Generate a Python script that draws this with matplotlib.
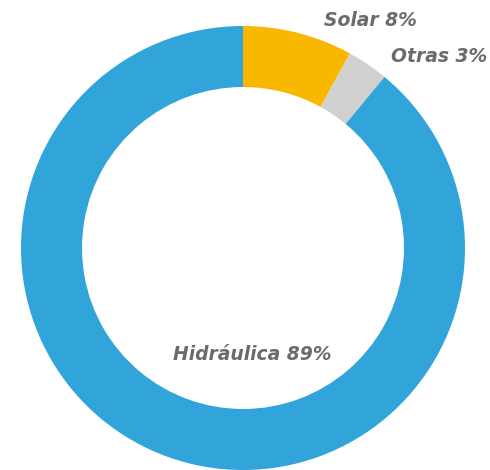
import matplotlib
matplotlib.use("Agg")
import matplotlib.pyplot as plt

labels = ["Solar", "Otras", "Hidráulica"]
shares = [8, 3, 89]
colors = ["#F9B700", "#D0D0CF", "#31A4DA"]

fig = plt.figure(figsize=(4.9, 4.7), dpi=100)
ax = fig.add_axes([0, 0, 1, 1])

# donut starting at the top, going clockwise
ax.pie(shares, colors=colors, startangle=90, counterclock=False,
       center=(243, 222), radius=222,
       wedgeprops=dict(width=61, linewidth=0))

ax.set_xlim(0, 490)
ax.set_ylim(0, 470)
ax.set_aspect("equal")
ax.axis("off")

label_pos = [(370, 450), (439, 413), (252, 115)]
for name, val, (x, y) in zip(labels, shares, label_pos):
    ax.text(x, y, f"{name} {val}%", ha="center", va="center",
            fontsize=13.5, fontweight="bold", fontstyle="italic",
            color="#6B6B6B", family="DejaVu Sans")

fig.savefig("out.png", dpi=100)
